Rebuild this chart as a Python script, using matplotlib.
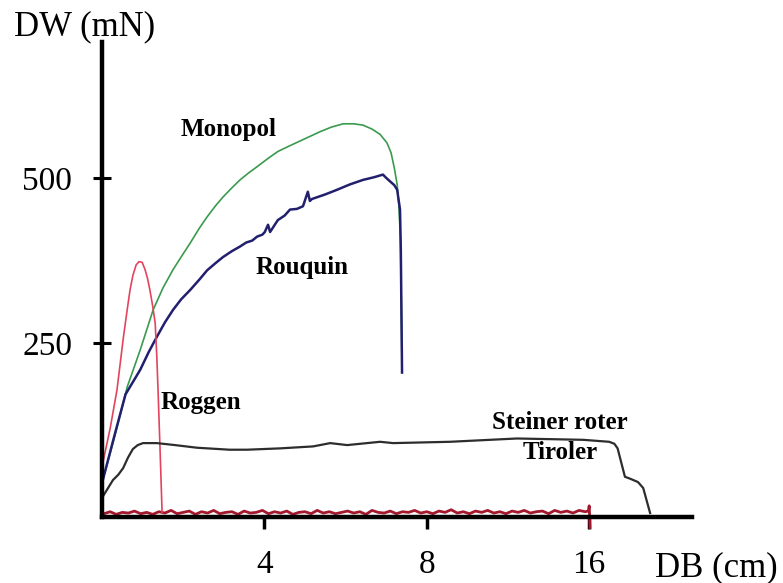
import matplotlib.pyplot as plt

# DATOS
# DB (cm) en la escala del eje, DW (mN)
monopol_x = [0.02, 0.30, 0.62, 0.94, 1.26, 1.50, 1.75, 2.00, 2.17, 2.40, 2.59,
             2.80, 2.98, 3.20, 3.40, 3.60, 3.82, 4.10, 4.33, 4.60, 4.95, 5.37,
             5.65, 5.94, 6.20, 6.43, 6.65, 6.85, 7.02, 7.12, 7.20, 7.27, 7.31,
             7.35, 7.37, 7.39]
monopol_y = [42, 105, 183, 239, 300, 333, 361, 385, 401, 424, 441,
             458, 471, 485, 497, 507, 517, 530, 540, 548, 558, 570,
             577, 582, 582, 580, 574, 566, 553, 538, 515, 490, 460,
             410, 320, 205]

rouquin_x = [0.02, 0.30, 0.58, 0.94, 1.15, 1.35, 1.55, 1.75, 1.95, 2.17, 2.40,
             2.59, 2.80, 2.98, 3.20, 3.40, 3.55, 3.70, 3.82, 3.95, 4.01, 4.09,
             4.14, 4.33, 4.50, 4.63, 4.80, 4.95, 5.07, 5.12, 5.17, 5.50, 5.79,
             6.10, 6.43, 6.70, 6.92, 7.00, 7.09, 7.20, 7.27, 7.34, 7.36, 7.39]
rouquin_y = [42, 108, 172, 209, 236, 259, 281, 300, 316, 330, 346,
             360, 371, 380, 389, 396, 402, 405, 411, 414, 418, 429,
             418, 436, 443, 452, 453, 457, 479, 465, 468, 475, 482,
             490, 497, 501, 505, 500, 495, 489, 482, 452, 391, 205]

roggen_x = [0.02, 0.20, 0.37, 0.52, 0.62, 0.69, 0.76, 0.84, 0.91, 0.99, 1.06,
            1.12, 1.18, 1.25, 1.31, 1.35, 1.38, 1.43, 1.48]
roggen_y = [68, 120, 179, 255, 300, 330, 352, 368, 373, 372, 361,
            348, 330, 305, 280, 229, 179, 88, -7]

# Rauschen von Roggen an der Grundlinie
rausch_x = [0.05, 0.2, 0.35, 0.5, 0.65, 0.8, 0.95, 1.1, 1.25, 1.4, 1.55, 1.7,
            1.85, 2.0, 2.15, 2.3, 2.45, 2.6, 2.75, 2.9, 3.05, 3.2, 3.35, 3.5,
            3.65, 3.8, 3.95, 4.1, 4.25, 4.4, 4.55, 4.7, 4.85, 5.0, 5.15, 5.3,
            5.45, 5.6, 5.75, 5.9, 6.05, 6.2, 6.35, 6.5, 6.65, 6.8, 6.95, 7.1,
            7.25, 7.4, 7.55, 7.7, 7.85, 8.0, 8.15, 8.3, 8.45, 8.6, 8.75, 8.9,
            9.05, 9.2, 9.35, 9.5, 9.65, 9.8, 9.95, 10.1, 10.25, 10.4, 10.55,
            10.7, 10.85, 11.0, 11.15, 11.3, 11.45, 11.6, 11.75, 11.9, 11.98,
            12.0, 12.02]
rausch_y = [-9, -6, -10, -7, -8, -5, -9, -7, -10, -6, -8, -4, -9, -7, -5, -10,
            -6, -8, -4, -9, -7, -6, -10, -5, -8, -7, -4, -9, -6, -8, -5, -10,
            -7, -6, -9, -4, -8, -6, -9, -7, -5, -8, -6, -10, -4, -7, -8, -5,
            -9, -6, -7, -4, -8, -6, -9, -5, -7, -3, -8, -6, -9, -5, -7, -4,
            -8, -6, -9, -5, -7, -4, -8, -6, -5, -9, -4, -7, -5, -8, -4, -6,
            -5, 3, -30]

steiner_x = [0.02, 0.15, 0.27, 0.40, 0.52, 0.64, 0.76, 0.88, 1.01, 1.35, 1.80,
             2.34, 3.14, 3.57, 4.38, 5.20, 5.62, 6.04, 6.85, 7.17, 8.57, 10.22,
             11.85, 12.49, 12.62, 12.70, 12.88, 13.01, 13.20, 13.33, 13.50]
steiner_y = [17, 30, 42, 50, 60, 76, 89, 95, 98, 98, 95,
             91, 88, 88, 90, 93, 98, 95, 100, 98, 100, 105,
             103, 100, 97, 90, 47, 44, 39, 30, -8]

xticks = [4, 8, 12]
xticklabels = ['4', '8', '16']
yticks = [250, 500]

# GRAFICA
fig = plt.figure(figsize=(7.83, 5.83), dpi=100)
ax = fig.add_axes([102/783, 66/583, 590/783, 475/583])
serif = 'Liberation Serif'

ax.plot(monopol_x, monopol_y, color='#3a9a4e', lw=1.2)
ax.plot(rouquin_x, rouquin_y, color='#22206e', lw=1.8)
ax.plot(rausch_x, rausch_y, color='#a3182c', lw=2.0, clip_on=False)
ax.plot(roggen_x, roggen_y, color='#e2445e', lw=1.2)
ax.plot(steiner_x, steiner_y, color='#2d2d2d', lw=1.6)

ax.set_xlim(0, 590/40.6)
ax.set_ylim(-14, 706)

for s in ['top', 'right']:
    ax.spines[s].set_visible(False)
for s in ['left', 'bottom']:
    ax.spines[s].set_linewidth(3.2)
    ax.spines[s].set_color('black')

ax.set_xticks(xticks)
ax.set_xticklabels(xticklabels)
ax.set_yticks(yticks)
ax.tick_params(axis='y', direction='inout', length=13, width=2.2, pad=15,
               labelsize=24)
ax.tick_params(axis='x', direction='out', length=8.5, width=2.5, pad=15,
               labelsize=24)
for lab in ax.get_xticklabels() + ax.get_yticklabels():
    lab.set_fontfamily(serif)

# Beschriftungen
kw = dict(fontfamily=serif, fontsize=18, fontweight='bold', ha='center',
          va='center')
ax.text(3.13, 573, 'Monopol', **kw)
ax.text(4.93, 364, 'Rouquin', **kw)
ax.text(2.44, 159, 'Roggen', **kw)
ax.text(11.28, 106, 'Steiner roter\nTiroler', linespacing=1.4, **kw)

fig.text(85/783, 1 - 27/583, 'DW (mN)', fontfamily=serif, fontsize=25,
         ha='center', va='center')
fig.text(716/783, 1 - 568/583, 'DB (cm)', fontfamily=serif, fontsize=25,
         ha='center', va='center')

plt.savefig('out.png', dpi=100)
